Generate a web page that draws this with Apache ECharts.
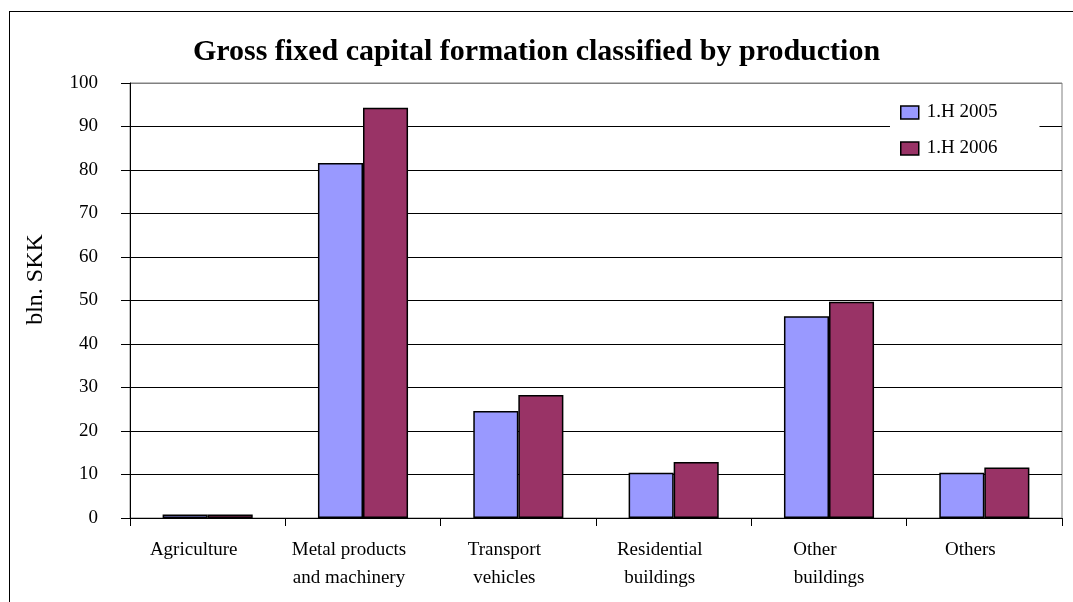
<!DOCTYPE html>
<html>
<head>
<meta charset="utf-8">
<script src="https://cdn.jsdelivr.net/npm/echarts@6/dist/echarts.min.js"></script>
<style>
html,body{margin:0;padding:0;background:#fff;}
#frame{position:absolute;left:9px;top:11px;width:1080px;height:600px;border-left:1px solid #000;border-top:1px solid #000;}
#c{position:absolute;left:0;top:0;width:1073px;height:602px;}
</style>
</head>
<body>
<div id="frame"></div>
<div id="c"></div>
<script>
const categories = ['Agriculture', 'Metal products\nand machinery', 'Transport\nvehicles', 'Residential\nbuildings', 'Other\nbuildings', 'Others'];
const seriesNames = ['1.H 2005', '1.H 2006'];
const values2005 = [0.8, 81.6, 24.6, 10.4, 46.4, 10.4];
const values2006 = [0.8, 94.3, 28.3, 12.9, 49.7, 11.6];
const yTicks = [0, 10, 20, 30, 40, 50, 60, 70, 80, 90, 100];

const serif = '"Liberation Serif", "Times New Roman", serif';
const chart = echarts.init(document.getElementById('c'));
const gridColors = yTicks.map((t, i) => i === yTicks.length - 1 ? '#808080' : '#000');

chart.setOption({
  backgroundColor: 'transparent',
  animation: false,
  title: {
    text: 'Gross fixed capital formation classified by production',
    left: 'center',
    top: 32,
    textStyle: { fontFamily: serif, fontSize: 30, fontWeight: 'bold', color: '#000' }
  },
  legend: {
    orient: 'vertical',
    left: 890,
    top: 97,
    backgroundColor: '#fff',
    padding: [6, 42, 6, 10],
    itemWidth: 18,
    itemHeight: 13,
    itemGap: 17,
    icon: 'rect',
    itemStyle: { borderColor: '#000', borderWidth: 1.5 },
    textStyle: { fontFamily: serif, fontSize: 19, color: '#000', padding: [0, 0, 0, 3] },
    data: seriesNames
  },
  grid: {
    left: 130, right: 11, top: 83, bottom: 84,
    show: true, borderColor: '#808080', borderWidth: 1, backgroundColor: 'transparent'
  },
  xAxis: {
    type: 'category',
    data: categories,
    axisLine: { lineStyle: { color: '#000', width: 1 } },
    axisTick: { show: true, length: 8, lineStyle: { color: '#000' } },
    axisLabel: {
      interval: 0,
      margin: 18,
      fontFamily: serif,
      fontSize: 19,
      color: '#000',
      lineHeight: 28,
      padding: [0, 28, 0, 0],
      formatter: function (v) {
        if (v === 'Other\nbuildings') return '{a|Other}\n{b|buildings}';
        return v;
      },
      rich: {
        a: { fontFamily: serif, fontSize: 19, color: '#000', lineHeight: 28 },
        b: { fontFamily: serif, fontSize: 19, color: '#000', lineHeight: 28, padding: [0, 0, 0, 28] }
      }
    }
  },
  yAxis: {
    type: 'value',
    min: 0, max: 100, interval: 10,
    name: 'bln. SKK',
    nameLocation: 'middle',
    nameGap: 82,
    nameTextStyle: { fontFamily: serif, fontSize: 24, color: '#000', padding: [0, 0, 0, 42] },
    axisLine: { show: true, lineStyle: { color: '#000', width: 1 } },
    axisTick: { show: true, length: 9, lineStyle: { color: '#000' } },
    axisLabel: { margin: 32, fontFamily: serif, fontSize: 19, color: '#000' },
    splitLine: { show: true, lineStyle: { color: gridColors, width: 1 } }
  },
  series: [
    {
      name: seriesNames[0], type: 'bar', data: values2005,
      barGap: '0%', barCategoryGap: '42%',
      itemStyle: { color: '#9999FF', borderColor: '#000', borderWidth: 1.5 }
    },
    {
      name: seriesNames[1], type: 'bar', data: values2006,
      barGap: '0%', barCategoryGap: '42%',
      itemStyle: { color: '#993366', borderColor: '#000', borderWidth: 1.5 }
    }
  ]
});
</script>
</body>
</html>
